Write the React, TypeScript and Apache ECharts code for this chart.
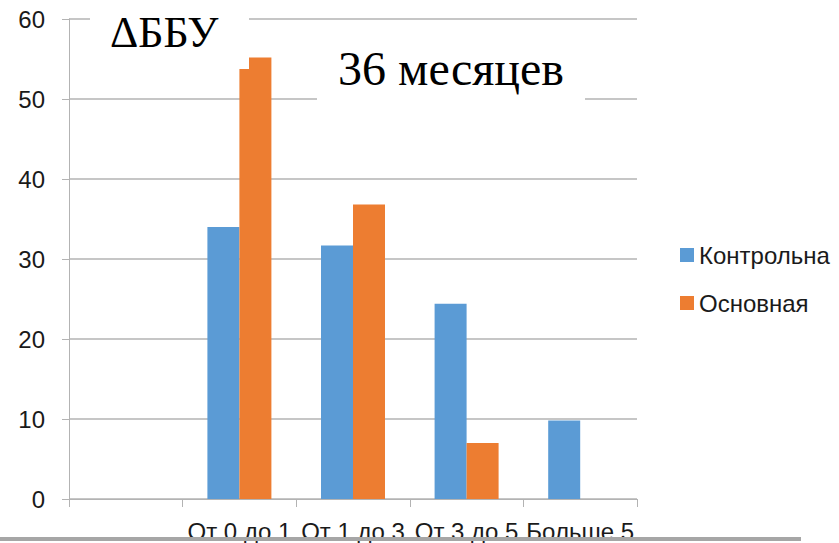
import React, { useEffect, useRef } from "react";
import * as echarts from "echarts";

const categories = ["", "От 0 до 1", "От 1 до 3", "От 3 до 5", "Больше 5"];
const controlValues = [0, 34.0, 31.7, 24.4, 9.8];
const mainValues = [0, 55.2, 36.8, 7.0, 0];
const seriesNames = ["Контрольна", "Основная"];
const titleMain = "ΔББУ";
const titleSub = "36 месяцев";

export default function App() {
  const ref = useRef<HTMLDivElement>(null);
  useEffect(() => {
    if (!ref.current) return;
    const chart = echarts.init(ref.current, null, { renderer: "svg" });
    const font = "'Liberation Sans', Arial, sans-serif";
    const axisGray = "#b3b3b3";
    chart.setOption({
      animation: false,
      backgroundColor: "#ffffff",
      grid: { left: 69, right: 202, top: 19, bottom: 43, containLabel: false },
      legend: {
        orient: "vertical",
        left: 680,
        top: 242,
        padding: 0,
        itemWidth: 14,
        itemHeight: 14,
        itemGap: 22,
        icon: "rect",
        textStyle: { fontFamily: font, fontSize: 24, color: "#1a1a1a", lineHeight: 26 },
        data: seriesNames,
      },
      xAxis: {
        type: "category",
        data: categories,
        boundaryGap: true,
        axisLine: { show: true, lineStyle: { color: axisGray, width: 1 } },
        axisTick: { show: true, length: 8, alignWithLabel: false, lineStyle: { color: axisGray } },
        axisLabel: { interval: 0, margin: 20, fontFamily: font, fontSize: 24, color: "#1a1a1a" },
        splitLine: { show: false },
      },
      yAxis: {
        type: "value",
        min: 0,
        max: 60,
        interval: 10,
        axisLine: { show: true, lineStyle: { color: axisGray, width: 1 } },
        axisTick: { show: true, length: 7, lineStyle: { color: axisGray } },
        axisLabel: { margin: 24, fontFamily: font, fontSize: 24, color: "#1a1a1a" },
        splitLine: { show: true, lineStyle: { color: axisGray, width: 1.5 } },
      },
      series: [
        {
          name: seriesNames[0],
          type: "bar",
          data: controlValues,
          barWidth: 32,
          barGap: "0%",
          itemStyle: { color: "#5b9bd5" },
        },
        {
          name: seriesNames[1],
          type: "bar",
          data: mainValues,
          barWidth: 32,
          barGap: "0%",
          itemStyle: { color: "#ed7d31" },
        },
      ],
      graphic: [
        {
          type: "rect",
          z: 100,
          shape: { x: 90, y: 8, width: 159, height: 61 },
          style: { fill: "#ffffff" },
        },
        {
          type: "text",
          z: 101,
          x: 110,
          y: 10,
          style: {
            text: titleMain,
            font: "44px 'Liberation Serif', 'Times New Roman', serif",
            fill: "#000000",
            verticalAlign: "top",
          },
        },
        {
          type: "rect",
          z: 100,
          shape: { x: 317, y: 36, width: 268, height: 74 },
          style: { fill: "#ffffff" },
        },
        {
          type: "text",
          z: 101,
          x: 338,
          y: 44,
          style: {
            text: titleSub,
            font: "48px 'Liberation Serif', 'Times New Roman', serif",
            fill: "#000000",
            verticalAlign: "top",
          },
        },
        {
          type: "rect",
          z: 100,
          shape: { x: 0, y: 537, width: 801, height: 4 },
          style: { fill: "#a6a6a6" },
        },
      ],
    });
    return () => chart.dispose();
  }, []);
  return (
    <div
      ref={ref}
      style={{ position: "fixed", left: 0, top: 0, width: 839, height: 543 }}
    />
  );
}
